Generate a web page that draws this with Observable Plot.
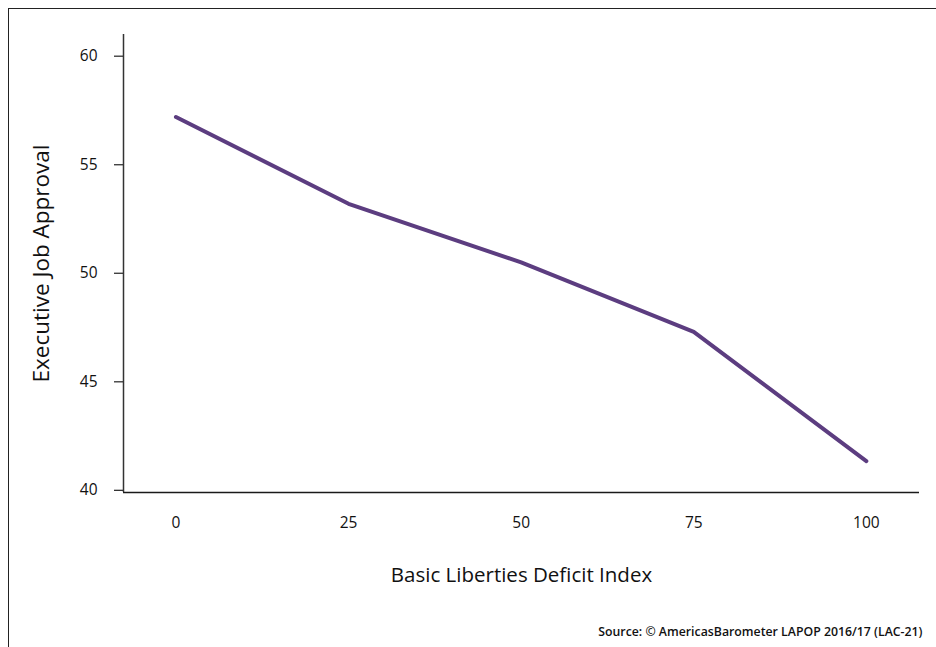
<!DOCTYPE html>
<html>
<head>
<meta charset="utf-8">
<script src="https://cdn.jsdelivr.net/npm/d3@7"></script>
<script src="https://cdn.jsdelivr.net/npm/@observablehq/plot@0.6"></script>
<style>
  html, body { margin: 0; padding: 0; background: #fff; }
  #wrap { position: relative; width: 936px; height: 647px; overflow: hidden; font-family: "Open Sans", sans-serif; }
  #border { position: absolute; left: 8px; top: 8px; width: 2000px; height: 2000px; border-left: 1.5px solid #222; border-top: 1.5px solid #222; }
  #chart { position: absolute; left: 0; top: 0; }
</style>
</head>
<body>
<div id="wrap"><div id="border"></div><div id="chart"></div></div>
<script>
const deficitIndex = [0, 25, 50, 75, 100];
const approval = [57.2, 53.2, 50.5, 47.3, 41.35];
const xTicks = [0, 25, 50, 75, 100];
const yTicks = [40, 45, 50, 55, 60];
const xTitle = "Basic Liberties Deficit Index";
const yTitle = "Executive Job Approval";
const source = "Source: © AmericasBarometer LAPOP 2016/17 (LAC-21)";

const data = deficitIndex.map((x, i) => ({x, y: approval[i]}));
const xDomain = [-7.6, 107.7];
const yDomain = [39.9, 61];

const chart = Plot.plot({
  width: 936,
  height: 647,
  marginLeft: 123,
  marginRight: 17,
  marginTop: 34,
  marginBottom: 155,
  style: {fontFamily: "Open Sans, sans-serif", color: "#111", background: "transparent"},
  x: {domain: xDomain},
  y: {domain: yDomain},
  marks: [
    Plot.axisY(yTicks, {tickSize: 9, tickPadding: 17, fontSize: 15.5, label: null, stroke: "#333", strokeWidth: 1.3}),
    Plot.axisX(xTicks, {tickSize: 0, tickPadding: 24, fontSize: 15.5, label: null}),
    Plot.ruleX([xDomain[0]], {stroke: "#333", strokeWidth: 1.5}),
    Plot.ruleY([yDomain[0]], {stroke: "#1a1a1a", strokeWidth: 1.5}),
    Plot.line(data, {x: "x", y: "y", stroke: "#5c3d80", strokeWidth: 4, strokeLinecap: "round", strokeLinejoin: "round"}),
    Plot.text([xTitle], {frameAnchor: "bottom", dy: 89, fontSize: 20.5, fill: "#111", text: d => d}),
    Plot.text([yTitle], {frameAnchor: "left", textAnchor: "middle", dx: -82, rotate: -90, fontSize: 22.5, fill: "#111", text: d => d}),
    Plot.text([source], {frameAnchor: "bottom-right", textAnchor: "end", dx: 3, dy: 143, fontSize: 12.3, fontWeight: 600, fill: "#111", text: d => d})
  ]
});
document.getElementById("chart").appendChild(chart);
</script>
</body>
</html>
